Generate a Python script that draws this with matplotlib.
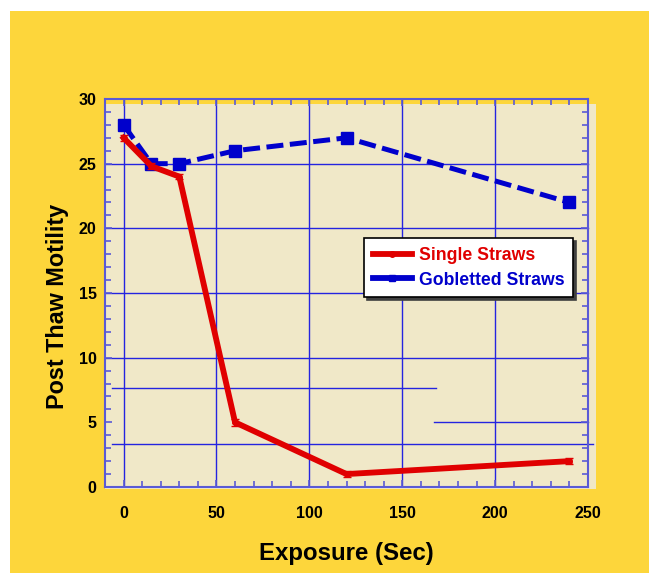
import matplotlib
matplotlib.use("Agg")
import matplotlib.pyplot as plt
from matplotlib.lines import Line2D
from matplotlib.patches import Rectangle
from matplotlib.ticker import MultipleLocator

plt.rcParams["font.family"] = ["Liberation Sans", "DejaVu Sans"]

# exposure times (sec) and post thaw motility
exposure = [0, 15, 30, 60, 120, 240]
single_straws = [27, 24.8, 24, 5, 1, 2]
single_err = [0.25, 0.25, 0.2, 0.25, 0.25, 0.25]
gobletted_straws = [28, 25, 25, 26, 27, 22]

x_ticks = [0, 50, 100, 150, 200, 250]
y_ticks = [0, 5, 10, 15, 20, 25, 30]

# horizontal rules: (y, x start, x end)
h_rules = [(10, -10, 250), (15, -10, 250), (20, -10, 250), (25, -10, 250),
           (5, 167, 250), (7.65, -6, 168), (3.3, -6, 252.5)]

YELLOW = "#fdd63b"
BEIGE = "#f0e8c8"
RED = "#e00000"
BLUE = "#0000cc"
GRID = "#2424e0"
SPINE = "#5a5ad6"

fig = plt.figure(figsize=(6.49, 5.73), dpi=100)
W, H = 649, 573


def fx(px):
    return px / W


def fy(py):
    return 1 - py / H


fig.patches.append(Rectangle((fx(10), 0), 1 - fx(10), fy(11), transform=fig.transFigure,
                             facecolor=YELLOW, edgecolor="none", zorder=-10))
fig.patches.append(Rectangle((fx(105), fy(489)), fx(596 - 105), (489 - 104) / H,
                             transform=fig.transFigure, facecolor=BEIGE,
                             edgecolor="none", zorder=-9))

ax = fig.add_axes([fx(105), fy(487), fx(588 - 105), (487 - 99) / H])
ax.set_facecolor("none")
ax.set_xlim(-10, 250)
ax.set_ylim(0, 30)

ax.grid(axis="x", color=GRID, linewidth=1.0)
for y, x0, x1 in h_rules:
    ax.plot([x0, x1], [y, y], color=GRID, linewidth=1.0, zorder=1, clip_on=False)

ax.plot(exposure, gobletted_straws, color=BLUE, linewidth=3.6,
        linestyle=(0, (3.4, 1.3)), marker="s", markersize=8, zorder=3)
ax.errorbar(exposure, single_straws, yerr=single_err, color=RED, linewidth=4.2,
            marker="o", markersize=4, capsize=3, elinewidth=1.5, zorder=4)

ax.set_xticks(x_ticks)
ax.set_yticks(y_ticks)
ax.xaxis.set_minor_locator(MultipleLocator(10))
ax.yaxis.set_minor_locator(MultipleLocator(1))
ax.tick_params(which="both", direction="in", top=True, right=True, color=SPINE,
               width=1.2)
ax.tick_params(which="major", length=5)
ax.tick_params(which="minor", length=4)
ax.tick_params(axis="x", which="major", pad=14, labelsize=11.5)
ax.tick_params(axis="y", which="major", pad=6, labelsize=11.5)
for lbl in ax.get_xticklabels() + ax.get_yticklabels():
    lbl.set_fontweight("bold")

for sp in ax.spines.values():
    sp.set_color(SPINE)
    sp.set_linewidth(1.5)

ax.set_xlabel("Exposure (Sec)", fontsize=17.3, fontweight="bold", labelpad=15)
ax.set_ylabel("Post Thaw Motility", fontsize=16.8, fontweight="bold")
ax.yaxis.set_label_coords(-0.074, 0.466)

handles = [
    Line2D([], [], color=RED, linewidth=4.2, marker="o", markersize=4),
    Line2D([], [], color=BLUE, linewidth=4.2, marker="s", markersize=5),
]
leg = ax.legend(handles, ["Single Straws", "Gobletted Straws"], loc="upper left",
                bbox_to_anchor=(0.536, 0.642), borderaxespad=0, fancybox=False,
                shadow={"color": "#404040", "alpha": 1}, framealpha=1,
                edgecolor="black", handlelength=2.2, handletextpad=0.4,
                borderpad=0.5, labelspacing=0.45,
                prop={"size": 12.7, "weight": "bold"})
leg.get_frame().set_linewidth(1.2)
for txt, c in zip(leg.get_texts(), [RED, BLUE]):
    txt.set_color(c)

fig.savefig("out.png", dpi=100, facecolor="white")
